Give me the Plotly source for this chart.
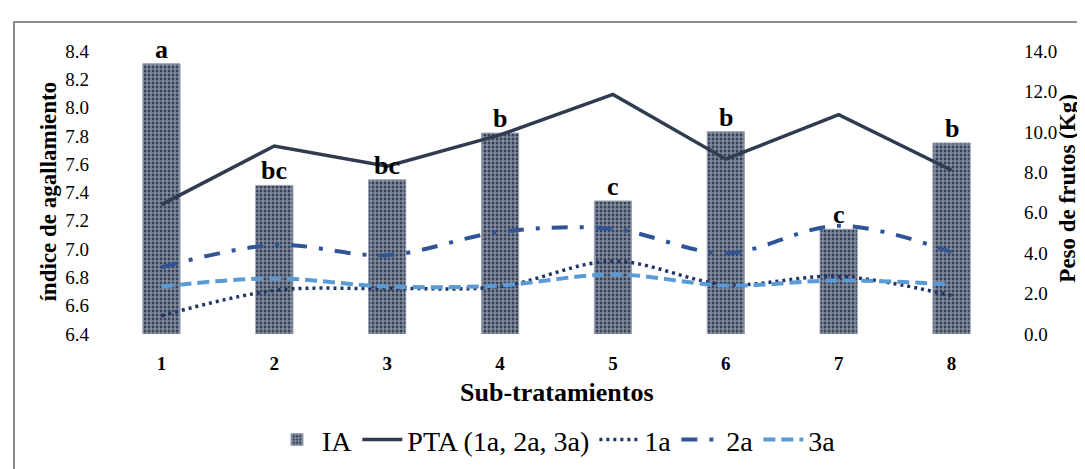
import plotly.graph_objects as go

categories = [1, 2, 3, 4, 5, 6, 7, 8]
tick_labels = ["1", "2", "3", "4", "5", "6", "7", "8"]
ia = [8.31, 7.45, 7.49, 7.82, 7.34, 7.83, 7.14, 7.75]
ia_letters = ["a", "bc", "bc", "b", "c", "b", "c", "b"]
pta = [6.4, 9.3, 8.3, 9.85, 11.85, 8.65, 10.85, 8.1]
s1a = [0.9, 2.15, 2.25, 2.35, 3.6, 2.45, 2.85, 1.9]
s2a = [3.3, 4.4, 3.9, 5.05, 5.2, 4.0, 5.35, 4.05]
s3a = [2.35, 2.75, 2.35, 2.4, 2.95, 2.4, 2.65, 2.45]

FONT = "Liberation Serif"
W, H = 1085, 469
L, R, T, B = 97, 85, 43, 132
PW, PH = W - L - R, H - T - B

def px(x):
    return (x - L) / PW

def py(y):
    return (H - B - y) / PH

fig = go.Figure()
fig.add_trace(go.Bar(
    x=categories, y=ia, name="IA", width=0.33,
    marker=dict(color="#3a4760",
                line=dict(color="#9aa3b2", width=1),
                pattern=dict(shape="+", fgcolor="#ffffff", bgcolor="#34415a",
                             size=4, solidity=0.5)),
    yaxis="y",
))
fig.add_trace(go.Scatter(
    x=categories, y=pta, name="PTA (1a, 2a, 3a)", mode="lines",
    line=dict(color="#2f3b4f", width=3.5), yaxis="y2"))
fig.add_trace(go.Scatter(
    x=categories, y=s1a, name="1a", mode="lines",
    line=dict(color="#1f3566", width=3.5, dash="3px,4px", shape="spline"), yaxis="y2"))
fig.add_trace(go.Scatter(
    x=categories, y=s2a, name="2a", mode="lines",
    line=dict(color="#2f5597", width=4, dash="16px,12px,4px,12px", shape="spline"), yaxis="y2"))
fig.add_trace(go.Scatter(
    x=categories, y=s3a, name="3a", mode="lines",
    line=dict(color="#5b9bd5", width=4, dash="12px,6px", shape="spline"), yaxis="y2"))

annotations = []
for c, v, t in zip(categories, ia, ia_letters):
    annotations.append(dict(x=c, y=v, xref="x", yref="y", text=t, showarrow=False,
                            yanchor="bottom", yshift=-2,
                            font=dict(family=FONT, size=26, color="black", weight="bold")))
annotations.append(dict(x=0.5, y=py(398), xref="paper", yref="paper", text="Sub-tratamientos",
                        showarrow=False, xanchor="center", yanchor="middle",
                        font=dict(family=FONT, size=26, color="black", weight="bold")))
annotations.append(dict(x=px(41), y=py(189), xref="paper", yref="paper", text="índice de agallamiento",
                        showarrow=False, textangle=-90, xanchor="center", yanchor="middle",
                        font=dict(family=FONT, size=23, color="black", weight="bold")))
annotations.append(dict(x=px(1060), y=py(186), xref="paper", yref="paper", text="Peso de frutos (Kg)",
                        showarrow=False, textangle=-90, xanchor="center", yanchor="middle",
                        font=dict(family=FONT, size=23, color="black", weight="bold")))

fig.update_layout(
    width=W, height=H,
    margin=dict(l=L, r=R, t=T, b=B),
    paper_bgcolor="white", plot_bgcolor="white",
    showlegend=True,
    legend=dict(orientation="h", x=0.5, xanchor="center", y=py(447), yanchor="middle",
                font=dict(family=FONT, size=28, color="black"),
                itemwidth=40, tracegroupgap=0, bgcolor="rgba(0,0,0,0)"),
    xaxis=dict(range=[0.5, 8.5], tickvals=categories, ticktext=tick_labels,
               showgrid=False, zeroline=False, showline=False, ticks="",
               ticklabelstandoff=16,
               tickfont=dict(family=FONT, size=19, color="black", weight="bold")),
    yaxis=dict(range=[6.4, 8.4], dtick=0.2, tickformat=".1f",
               showgrid=False, zeroline=False, showline=False, ticks="",
               ticklabelstandoff=15,
               tickfont=dict(family=FONT, size=19, color="black")),
    yaxis2=dict(range=[0, 14], dtick=2, tickformat=".1f", overlaying="y", side="right",
                showgrid=False, zeroline=False, showline=False, ticks="",
                ticklabelstandoff=15,
                tickfont=dict(family=FONT, size=19, color="black")),
    annotations=annotations,
    shapes=[dict(type="rect", xref="paper", yref="paper",
                 x0=px(6), x1=px(1100), y0=py(485), y1=py(13),
                 line=dict(color="#8c8c8c", width=2), fillcolor="rgba(0,0,0,0)", layer="below")],
    bargap=0.6,
)

fig.write_html("out.html")
